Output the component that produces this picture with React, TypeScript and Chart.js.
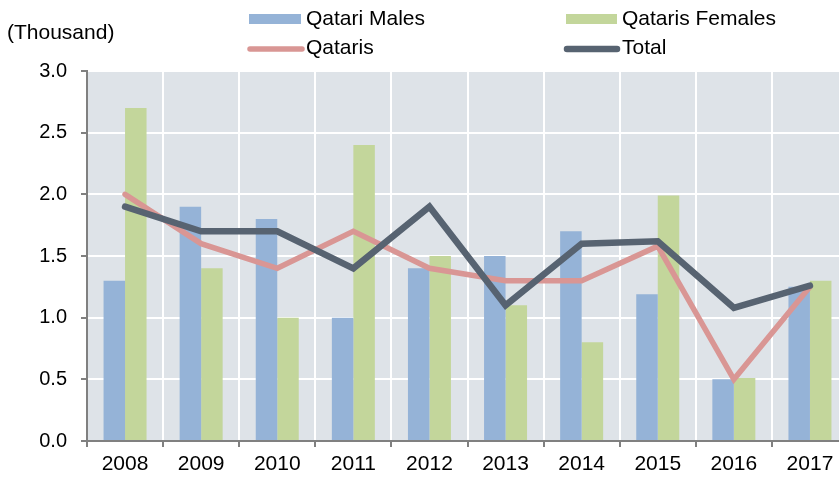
import React, { useEffect, useRef } from "react";
import { Chart, registerables } from "chart.js";

Chart.register(...registerables);

const years = ["2008", "2009", "2010", "2011", "2012", "2013", "2014", "2015", "2016", "2017"];
const qatariMales = [1.3, 1.9, 1.8, 1.0, 1.4, 1.5, 1.7, 1.19, 0.5, 1.25];
const qatariFemales = [2.7, 1.4, 1.0, 2.4, 1.5, 1.1, 0.8, 1.99, 0.51, 1.3];
const qataris = [2.0, 1.6, 1.4, 1.7, 1.4, 1.3, 1.3, 1.58, 0.5, 1.25];
const total = [1.9, 1.7, 1.7, 1.4, 1.9, 1.1, 1.6, 1.62, 1.08, 1.26];

const unitLabel = "(Thousand)";
const legendLabels = ["Qatari Males", "Qataris Females", "Qataris", "Total"];

const BLUE = "#95b3d7";
const GREEN = "#c3d69b";
const PINK = "#d99694";
const DARK = "#576371";
const AXIS = "#808080";
const BG = "#dee3e8";
const FONT = "'Liberation Sans', Arial, sans-serif";

export default function App() {
  const ref = useRef<HTMLCanvasElement | null>(null);

  useEffect(() => {
    if (!ref.current) return;

    const bgPlugin = {
      id: "bgPlugin",
      beforeDraw(chart: any) {
        const { ctx, chartArea } = chart;
        ctx.save();
        ctx.fillStyle = BG;
        ctx.fillRect(chartArea.left, chartArea.top, chartArea.right - chartArea.left, chartArea.bottom - chartArea.top);
        ctx.restore();
      },
    };

    const legendPlugin = {
      id: "legendPlugin",
      afterDraw(chart: any) {
        const ctx = chart.ctx;
        ctx.save();
        ctx.font = `21px ${FONT}`;
        ctx.fillStyle = "#000";
        ctx.textBaseline = "middle";
        ctx.textAlign = "left";
        ctx.fillText(unitLabel, 7, 33);

        // row 1: bars
        ctx.fillStyle = BLUE;
        ctx.fillRect(249, 14, 52, 10);
        ctx.fillStyle = GREEN;
        ctx.fillRect(566, 14, 51, 10);
        ctx.fillStyle = "#000";
        ctx.fillText(legendLabels[0], 306, 19);
        ctx.fillText(legendLabels[1], 622, 19);

        // row 2: lines
        ctx.lineCap = "round";
        ctx.lineWidth = 5.5;
        ctx.strokeStyle = PINK;
        ctx.beginPath();
        ctx.moveTo(250, 49);
        ctx.lineTo(302, 49);
        ctx.stroke();
        ctx.lineWidth = 6.5;
        ctx.strokeStyle = DARK;
        ctx.beginPath();
        ctx.moveTo(567, 49);
        ctx.lineTo(617, 49);
        ctx.stroke();
        ctx.fillStyle = "#000";
        ctx.fillText(legendLabels[2], 306, 48);
        ctx.fillText(legendLabels[3], 622, 48);
        ctx.restore();
      },
    };

    const chart = new Chart(ref.current, {
      type: "bar",
      data: {
        labels: years,
        datasets: [
          {
            type: "bar",
            label: legendLabels[0],
            data: qatariMales,
            backgroundColor: BLUE,
            categoryPercentage: 0.565,
            barPercentage: 1,
            order: 3,
          },
          {
            type: "bar",
            label: legendLabels[1],
            data: qatariFemales,
            backgroundColor: GREEN,
            categoryPercentage: 0.565,
            barPercentage: 1,
            order: 4,
          },
          {
            type: "line",
            label: legendLabels[2],
            data: qataris,
            borderColor: PINK,
            backgroundColor: PINK,
            borderWidth: 5.5,
            pointRadius: 0,
            borderCapStyle: "round",
            borderJoinStyle: "miter",
            tension: 0,
            order: 1,
          },
          {
            type: "line",
            label: legendLabels[3],
            data: total,
            borderColor: DARK,
            backgroundColor: DARK,
            borderWidth: 6.5,
            pointRadius: 0,
            borderCapStyle: "round",
            borderJoinStyle: "miter",
            tension: 0,
            order: 0,
          },
        ] as any,
      },
      options: {
        animation: false,
        responsive: false,
        maintainAspectRatio: false,
        layout: { padding: { top: 71, left: 0, right: 0, bottom: 0 } },
        plugins: {
          legend: { display: false },
          title: { display: false },
          tooltip: { enabled: false },
        },
        scales: {
          x: {
            offset: true,
            grid: {
              offset: true,
              color: "#ffffff",
              lineWidth: 2,
              tickColor: AXIS,
              tickWidth: 2,
              tickLength: 6,
            },
            border: { color: AXIS, width: 2 },
            ticks: {
              color: "#000",
              font: { size: 21, family: FONT },
              padding: 5,
              maxRotation: 0,
              autoSkip: false,
            },
            afterFit(scale: any) {
              scale.height = 36;
            },
          },
          y: {
            min: 0,
            max: 3,
            grid: {
              color: (c: any) => (c.tick && c.tick.value === 0 ? "rgba(0,0,0,0)" : "#ffffff"),
              lineWidth: 2,
              tickColor: AXIS,
              tickWidth: 2,
              tickLength: 6,
            },
            border: { color: AXIS, width: 2 },
            ticks: {
              stepSize: 0.5,
              color: "#000",
              font: { size: 20, family: FONT },
              padding: 14,
              callback: (v: any) => Number(v).toFixed(1),
            },
            afterFit(scale: any) {
              scale.width = 87;
            },
          },
        },
      },
      plugins: [bgPlugin, legendPlugin],
    });

    return () => chart.destroy();
  }, []);

  return (
    <div style={{ position: "fixed", left: 0, top: 0, width: 839, height: 477, overflow: "hidden", background: "#fff" }}>
      <canvas ref={ref} width={848} height={477} style={{ width: 848, height: 477, display: "block" }} />
    </div>
  );
}
